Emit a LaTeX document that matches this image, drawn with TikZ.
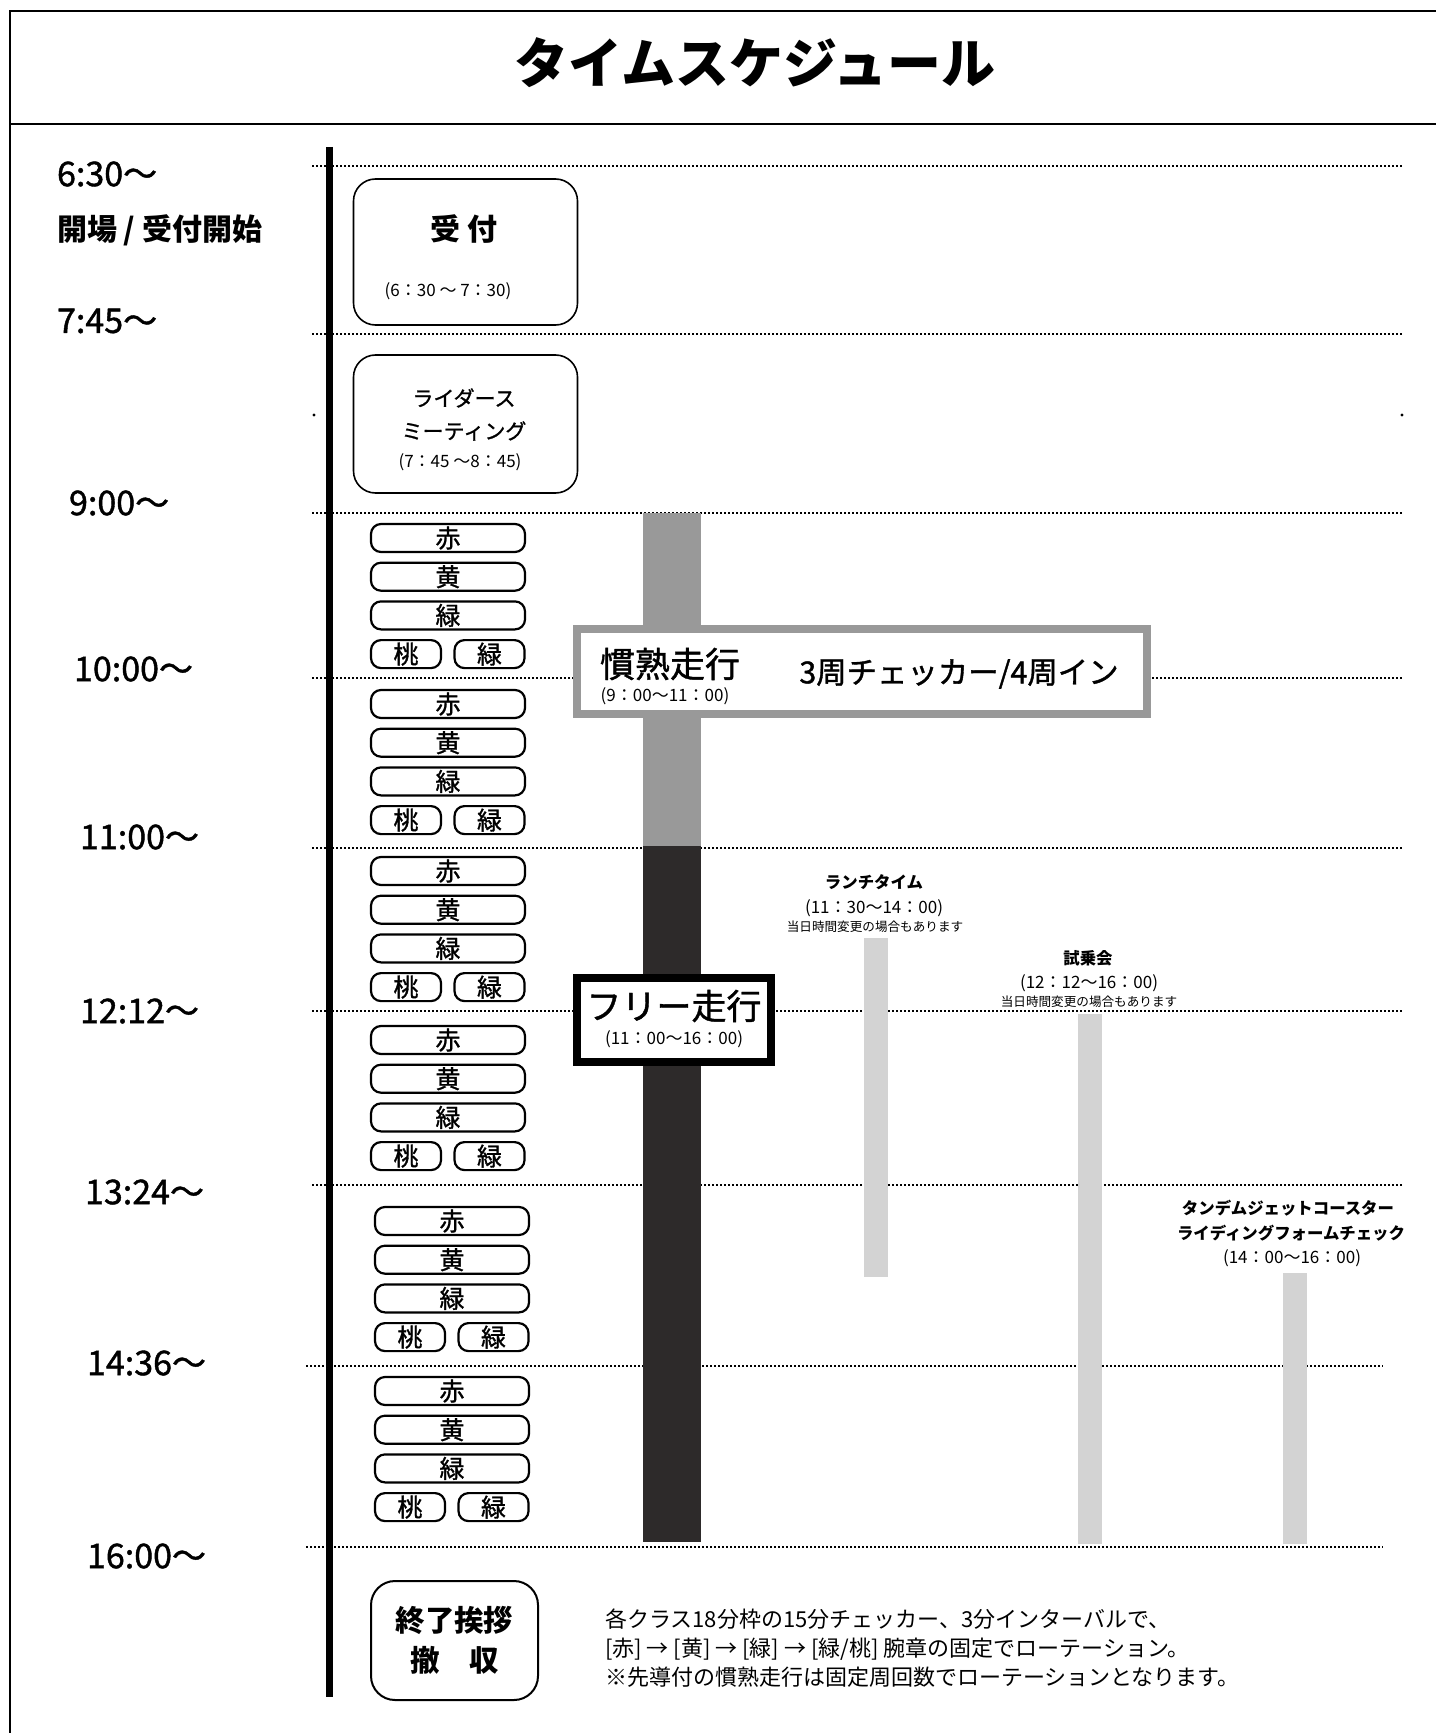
\documentclass[tikz,border=0pt]{standalone}
\usepackage{fontspec}
\setmainfont{Noto Sans CJK JP}
\newfontfamily\medfont{Noto Sans CJK JP}[FakeBold=1.2]
\usetikzlibrary{positioning}
\definecolor{practicegray}{RGB}{153,153,153}
\definecolor{freedark}{RGB}{45,42,42}
\definecolor{sidebar}{RGB}{211,211,211}
\tikzset{
  timelabel/.style={anchor=west, font=\medfont\fontsize{17}{20}\selectfont},
  classbox/.style={draw, line width=1.1pt, rounded corners=5pt, minimum width=77pt, minimum height=14pt, inner sep=0pt, font=\medfont\fontsize{12.5}{14}\selectfont},
  halfbox/.style={classbox, minimum width=35pt},
  roundbox/.style={draw, line width=0.8pt, rounded corners=11pt, inner sep=0pt},
  gridline/.style={line width=1pt, dash pattern=on 1pt off 1pt},
  smallnote/.style={font=\fontsize{8.5}{10}\selectfont},
  tinynote/.style={font=\fontsize{6.3}{7}\selectfont},
  eventtitle/.style={font=\bfseries\fontsize{8.2}{10}\selectfont}
}

\begin{document}
\begin{tikzpicture}[x=0.5pt,y=-0.5pt]
\useasboundingbox (0,0) rectangle (1436,1733);
% Frame and title
\draw[line width=1.4pt] (10,1733) -- (10,11) -- (1436,11);
\draw[line width=1.4pt] (10,124) -- (1436,124);
\node[font=\bfseries\fontsize{27}{30}\selectfont] (title) at (755,63) {タイムスケジュール};
% Dotted time lines
\foreach \yy in {166,334,513,678,848,1011,1185}
  \draw[gridline] (312,\yy) -- (1402,\yy);
\foreach \yy in {1366,1547}
  \draw[gridline] (306,\yy) -- (1383,\yy);
\fill (314,415) circle (0.8pt);
\fill (1402,415) circle (0.8pt);
% Time axis
\draw[line width=3.5pt] (329,147) -- (329,1697);
\node[timelabel] (t0630) at (50,174) {6:30～};
\node[anchor=west, font=\bfseries\fontsize{15}{18}\selectfont] (open) at (50,230) {開場 / 受付開始};
\node[timelabel] (t0745) at (50,321) {7:45～};
\node[timelabel] (t0900) at (62,503) {9:00～};
\node[timelabel] (t1000) at (67,669) {10:00～};
\node[timelabel] (t1100) at (73,837) {11:00～};
\node[timelabel] (t1212) at (73,1011) {12:12～};
\node[timelabel] (t1324) at (78,1192) {13:24～};
\node[timelabel] (t1436) at (80,1363) {14:36～};
\node[timelabel] (t1600) at (80,1556) {16:00～};
% Reception and meeting
\node[roundbox, minimum width=112pt, minimum height=73pt] (uketsuke) at (465.5,252) {};
\node[font=\bfseries\fontsize{15}{18}\selectfont] (uketsukelbl) at (464,229) {受 付};
\node[smallnote] (uketsuketime) at (448,291) {(6：30 ～ 7：30)};
\node[roundbox, minimum width=112pt, minimum height=69pt] (meeting) at (465.5,424) {};
\node[font=\medfont\fontsize{10.5}{12}\selectfont] (meeting1) at (464,398) {ライダース};
\node[font=\medfont\fontsize{10.5}{12}\selectfont] (meeting2) at (464,431) {ミーティング};
\node[smallnote] (meetingtime) at (460,462) {(7：45 ～8：45)};
% Class rotation
\foreach \ytop/\xc [count=\g] in {523/448, 689/448, 856/448, 1025/448, 1206/452, 1376/452} {
  \node[classbox] (aka\g) at (\xc,\ytop+15) {赤};
  \node[classbox] (ki\g) at (\xc,\ytop+53.7) {黄};
  \node[classbox] (midori\g) at (\xc,\ytop+92.4) {緑};
  \node[halfbox] (momo\g) at (\xc-42,\ytop+131.1) {桃};
  \node[halfbox] (midoriB\g) at (\xc+41.5,\ytop+131.1) {緑};
}
% Running bars
\fill[practicegray] (643,513) rectangle (701,846);
\fill[freedark] (643,846) rectangle (701,1542);
\fill[sidebar] (864,938) rectangle (888,1277);
\fill[sidebar] (1078,1014) rectangle (1102,1544);
\fill[sidebar] (1283,1273) rectangle (1307,1544);
% Practice run
\node[draw=practicegray, line width=4pt, fill=white, inner sep=0pt, minimum width=285pt, minimum height=42.5pt] (kanjuku) at (862,671.5) {};
\node[font=\medfont\fontsize{17.5}{20}\selectfont] (kanjukulbl) at (670,664) {慣熟走行};
\node[smallnote] (kanjukutime) at (665,696) {(9：00～11：00)};
\node[font=\medfont\fontsize{15.2}{18}\selectfont] (checker) at (959,674) {3周チェッカー/4周イン};
% Free run
\node[draw, line width=4pt, fill=white, inner sep=0pt, minimum width=97pt, minimum height=42pt] (free) at (674,1020) {};
\node[font=\medfont\fontsize{17.5}{20}\selectfont] (freelbl) at (674,1006) {フリー走行};
\node[smallnote] (freetime) at (674,1039) {(11：00～16：00)};
% Side events
\node[eventtitle] (lunch) at (874,882) {ランチタイム};
\node[smallnote] (lunchtime) at (874,908) {(11：30～14：00)};
\node[tinynote] (lunchnote) at (875,927) {当日時間変更の場合もあります};
\node[eventtitle] (trial) at (1088,958) {試乗会};
\node[smallnote] (trialtime) at (1089,983) {(12：12～16：00)};
\node[tinynote] (trialnote) at (1089,1002) {当日時間変更の場合もあります};
\node[eventtitle] (tandem1) at (1288,1208) {タンデムジェットコースター};
\node[eventtitle] (tandem2) at (1291,1233) {ライディングフォームチェック};
\node[smallnote] (tandemtime) at (1292,1258) {(14：00～16：00)};
% Closing
\node[roundbox, line width=1pt, rounded corners=12pt, minimum width=83.5pt, minimum height=59.5pt, align=center, font=\bfseries\fontsize{14.7}{20}\selectfont] (closing) at (454.5,1640.5) {終了挨拶\\撤　収};
\node[anchor=west, align=left, font=\fontsize{11}{14.4}\selectfont] (note) at (598,1648) {各クラス18分枠の15分チェッカー、3分インターバルで、\\{}[赤] → [黄] → [緑] → [緑/桃] 腕章の固定でローテーション。\\※先導付の慣熟走行は固定周回数でローテーションとなります。};
\end{tikzpicture}
\end{document}
